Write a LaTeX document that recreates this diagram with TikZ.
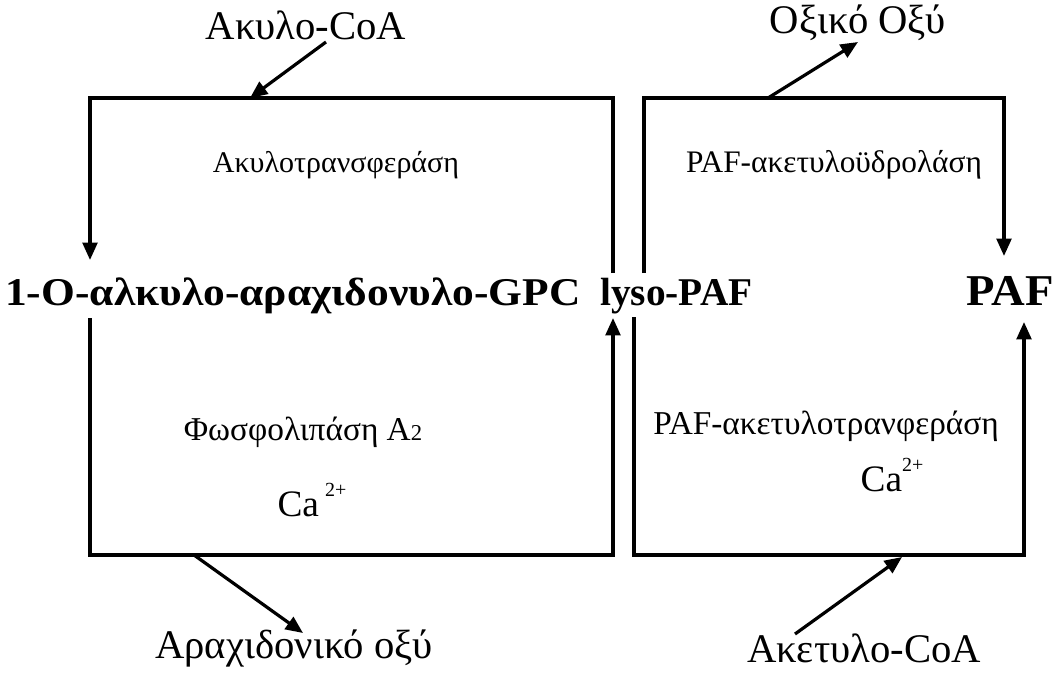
\documentclass[tikz,border=0pt]{standalone}
\usepackage{fontspec}
\setmainfont{Liberation Serif}
\usetikzlibrary{arrows.meta}
\begin{document}
\begin{tikzpicture}[x=0.75pt,y=-0.75pt,
  line/.style={line width=2.4pt,line join=miter},
  arr/.style={line width=2.4pt,-{Triangle[length=13pt,width=11pt]}},
  big/.style={font=\fontsize{30.5}{34}\selectfont,inner sep=0pt},
  mol/.style={font=\fontsize{29.5}{34}\selectfont\bfseries,inner sep=0pt},
  enz/.style={font=\fontsize{22.5}{26}\selectfont,inner sep=0pt},
  enzb/.style={font=\fontsize{25}{28}\selectfont,inner sep=0pt},
  ca/.style={font=\fontsize{28}{32}\selectfont,inner sep=0pt}]
\useasboundingbox (0,0) rectangle (1056,672);
% texts
\node[big] (akylcoa) at (306,25) {Ακυλο-CoA};
\node[big] (oxiko) at (858,23) {Οξικό Οξύ};
\node[enz] (akyltrans) at (336,165) {Ακυλοτρανσφεράση};
\node[enz,font=\fontsize{23.5}{26}\selectfont] (pafhydro) at (834,165) {PAF-ακετυλοϋδρολάση};
\node[mol,anchor=base west] (gpc) at (5,305) {\scalebox{1.105}[1]{1-O-αλκυλο-αραχιδονυλο-GPC}};
\node[mol,anchor=base west] (lyso) at (600,305) {lyso-PAF};
\node[mol,anchor=base east,font=\fontsize{33}{38}\selectfont\bfseries] (paf) at (1054,305) {\scalebox{1.06}[1]{PAF}};
\node[enzb] (phospho) at (303,432) {Φωσφολιπάση A{\fontsize{17}{20}\selectfont 2}};
\node[ca] (ca1) at (312,500) {Ca\,\raisebox{0.55em}{\fontsize{15}{18}\selectfont 2+}};
\node[enzb] (paftrans) at (826,426) {PAF-ακετυλοτρανφεράση};
\node[ca] (ca2) at (892,475) {Ca\raisebox{0.55em}{\fontsize{15}{18}\selectfont 2+}};
\node[big] (arach) at (294,648) {Αραχιδονικό οξύ};
\node[big] (acetyl) at (864,648) {Ακετυλο-CoA};
% box paths
\coordinate (lysoTopL) at (613,273);
\coordinate (lysoTopR) at (644,273);
\coordinate (lysoBotL) at (613,318);
\coordinate (lysoBotR) at (634,317);
\coordinate (gpcTop) at (90,260);
\coordinate (gpcBot) at (90,318);
\coordinate (pafTop) at (1004,256);
\coordinate (pafBot) at (1024,322);
\draw[arr] (lysoTopL) -- (613,98) -- (90,98) -- (gpcTop);
\draw[arr] (gpcBot) -- (90,555) -- (613,555) -- (lysoBotL);
\draw[arr] (lysoTopR) -- (644,98) -- (1004,98) -- (pafTop);
\draw[arr] (lysoBotR) -- (634,555) -- (1024,555) -- (pafBot);
% side arrows
\coordinate (c1) at (250,98);
\coordinate (c2) at (768,98);
\coordinate (c3) at (194,555);
\coordinate (c4) at (902,557);
\draw[arr] (326,42) -- (c1);
\draw[arr] (c2) -- (858,42);
\draw[arr] (c3) -- (303,633);
\draw[arr] (795,634) -- (c4);
\end{tikzpicture}
\end{document}
